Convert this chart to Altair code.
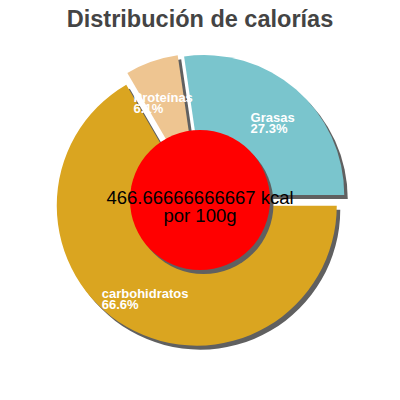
import math
import altair as alt
import pandas as pd

# ---- data ----
categories = ["Grasas", "Proteínas", "carbohidratos"]
percents = [27.3, 6.1, 66.6]
colors = ["#7AC5CD", "#EEC591", "#DAA520"]
center_lines = ["466.66666666667 kcal", "por 100g"]
title_text = "Distribución de calorías"

# ---- layout constants ----
W = H = 384
CX, CY = W / 2, H / 2
R = 140
INNER_R = 70
EXPLODE = 6.5
LABEL_DIST = 102
SDX, SDY = 3.5, 4
SHADOW = "#606060"
FONT = "Liberation Sans"

df = pd.DataFrame({"cat": categories, "value": percents,
                   "order": list(range(len(categories))), "color": colors})

base = (
    alt.Chart(df)
    .transform_joinaggregate(total="sum(value)")
    .transform_window(cum="sum(value)", sort=[alt.SortField("order")], frame=[None, 0])
    .transform_calculate(
        t0="PI/2 - 2*PI*(datum.cum - datum.value)/datum.total",
        t1="PI/2 - 2*PI*datum.cum/datum.total",
    )
    .transform_calculate(mid="(datum.t0 + datum.t1)/2")
    .transform_calculate(
        cx=f"{CX} + {EXPLODE}*sin(datum.mid)",
        cy=f"{CY} - {EXPLODE}*cos(datum.mid)",
    )
)

shadows = (
    base.transform_calculate(sx=f"datum.cx + {SDX}", sy=f"datum.cy + {SDY}")
    .mark_arc(radius=R, color=SHADOW)
    .encode(
        x=alt.X("sx:Q", scale=None, axis=None),
        y=alt.Y("sy:Q", scale=None, axis=None),
        theta=alt.Theta("t1:Q", scale=None),
        theta2="t0:Q",
    )
)

wedges = base.mark_arc(radius=R).encode(
    x=alt.X("cx:Q", scale=None, axis=None),
    y=alt.Y("cy:Q", scale=None, axis=None),
    theta=alt.Theta("t1:Q", scale=None),
    theta2="t0:Q",
    color=alt.Color("color:N", scale=None),
)

labels = (
    base.transform_calculate(
        lx=f"datum.cx + {LABEL_DIST}*sin(datum.mid) - length(datum.cat)*3.4",
        ly=f"datum.cy - {LABEL_DIST}*cos(datum.mid)",
        label="datum.cat + '\\n' + format(datum.value, '.1f') + '%'",
    )
    .mark_text(align="left", baseline="middle", fontSize=13, fontWeight="bold",
               font=FONT, color="white", lineHeight=11, lineBreak="\n")
    .encode(
        x=alt.X("lx:Q", scale=None, axis=None),
        y=alt.Y("ly:Q", scale=None, axis=None),
        text="label:N",
    )
)

center_df = pd.DataFrame({"text": ["\n".join(center_lines)]})
center = alt.Chart(center_df)

circle_shadow = center.mark_arc(radius=INNER_R, theta=0, theta2=2 * math.pi,
                                color=SHADOW).encode(
    x=alt.value(CX + SDX), y=alt.value(CY + SDY))
circle = center.mark_arc(radius=INNER_R, theta=0, theta2=2 * math.pi,
                         color="#FF0000").encode(x=alt.value(CX), y=alt.value(CY))
center_text = center.mark_text(fontSize=18.5, font=FONT, lineHeight=18, lineBreak="\n",
                               baseline="middle", align="center", dy=-2,
                               color="black").encode(
    text="text:N", x=alt.value(CX), y=alt.value(CY))

title = alt.Chart(pd.DataFrame({"t": [title_text]})).mark_text(
    fontSize=23.5, fontWeight="bold", color="#444444", font=FONT,
    baseline="alphabetic", align="center").encode(
    text="t:N", x=alt.value(CX), y=alt.value(19))

chart = (
    alt.layer(shadows, wedges, labels, circle_shadow, circle, center_text, title)
    .properties(width=W, height=H, autosize="none", padding=0)
    .configure_view(stroke=None)
)

chart.save("out.html", embed_options={"renderer": "svg", "actions": False})
